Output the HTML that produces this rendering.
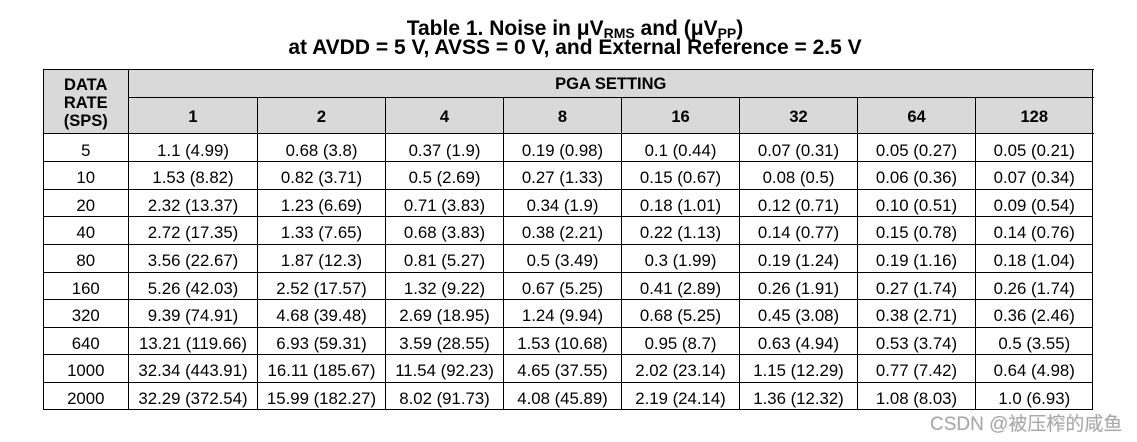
<!DOCTYPE html>
<html><head><meta charset="utf-8">
<style>
html,body{margin:0;padding:0;background:#fff;}
body{width:1137px;height:442px;position:relative;overflow:hidden;font-family:"Liberation Sans",Arial,sans-serif;color:#000;}
.ttl{position:absolute;left:275px;width:600px;text-align:center;font-weight:bold;font-size:21px;line-height:24px;white-space:nowrap;}
.sub{font-size:14px;position:relative;top:3px;}
.hdr{position:absolute;left:43px;top:69px;width:1050px;height:64.5px;background:#d9d9d9;}
.v{position:absolute;width:1px;background:#000;}
.h{position:absolute;height:1px;background:#000;}
.row{position:absolute;left:43px;height:27.6px;display:flex;font-size:16.8px;}
.row span{display:block;text-align:center;line-height:27.6px;padding-top:3px;white-space:nowrap;}
.c0{width:85.5px}.c1{width:129px}.c2{width:128px}.c3,.c4,.c5,.c6,.c7{width:118px}.c8{width:117.5px}
.hr2{top:97px;height:36.5px;font-weight:bold;font-size:16.5px;}
.hr2 span{line-height:36.5px;padding-top:1.5px;}
.wm{position:absolute;left:930px;top:414px;font-size:19px;line-height:22px;color:#a8a8a8;white-space:nowrap;font-family:"Liberation Sans","Noto Sans CJK SC",sans-serif;text-shadow:0 0 1px #ddd;}
</style></head><body>
<div class="ttl" style="top:17.4px">Table 1. Noise in μV<span class="sub">RMS</span> and (μV<span class="sub">PP</span>)</div>
<div class="ttl" style="top:35.7px">at AVDD = 5 V, AVSS = 0 V, and External Reference = 2.5 V</div>

<div class="hdr"></div>

<!-- header text -->
<div style="position:absolute;left:43px;top:75.5px;width:85.5px;text-align:center;font-weight:bold;font-size:16.5px;line-height:18.2px;">DATA<br>RATE<br>(SPS)</div>
<div style="position:absolute;left:128.5px;top:69px;width:964.5px;height:28px;text-align:center;font-weight:bold;font-size:16.5px;line-height:28px;padding-top:1px;">PGA SETTING</div>
<div class="row hr2"><span class="c0"></span><span class="c1">1</span><span class="c2">2</span><span class="c3">4</span><span class="c4">8</span><span class="c5">16</span><span class="c6">32</span><span class="c7">64</span><span class="c8">128</span></div>

<!-- data rows -->
<div class="row" style="top:133.5px"><span class="c0">5</span><span class="c1">1.1 (4.99)</span><span class="c2">0.68 (3.8)</span><span class="c3">0.37 (1.9)</span><span class="c4">0.19 (0.98)</span><span class="c5">0.1 (0.44)</span><span class="c6">0.07 (0.31)</span><span class="c7">0.05 (0.27)</span><span class="c8">0.05 (0.21)</span></div>
<div class="row" style="top:161.1px"><span class="c0">10</span><span class="c1">1.53 (8.82)</span><span class="c2">0.82 (3.71)</span><span class="c3">0.5 (2.69)</span><span class="c4">0.27 (1.33)</span><span class="c5">0.15 (0.67)</span><span class="c6">0.08 (0.5)</span><span class="c7">0.06 (0.36)</span><span class="c8">0.07 (0.34)</span></div>
<div class="row" style="top:188.7px"><span class="c0">20</span><span class="c1">2.32 (13.37)</span><span class="c2">1.23 (6.69)</span><span class="c3">0.71 (3.83)</span><span class="c4">0.34 (1.9)</span><span class="c5">0.18 (1.01)</span><span class="c6">0.12 (0.71)</span><span class="c7">0.10 (0.51)</span><span class="c8">0.09 (0.54)</span></div>
<div class="row" style="top:216.3px"><span class="c0">40</span><span class="c1">2.72 (17.35)</span><span class="c2">1.33 (7.65)</span><span class="c3">0.68 (3.83)</span><span class="c4">0.38 (2.21)</span><span class="c5">0.22 (1.13)</span><span class="c6">0.14 (0.77)</span><span class="c7">0.15 (0.78)</span><span class="c8">0.14 (0.76)</span></div>
<div class="row" style="top:243.9px"><span class="c0">80</span><span class="c1">3.56 (22.67)</span><span class="c2">1.87 (12.3)</span><span class="c3">0.81 (5.27)</span><span class="c4">0.5 (3.49)</span><span class="c5">0.3 (1.99)</span><span class="c6">0.19 (1.24)</span><span class="c7">0.19 (1.16)</span><span class="c8">0.18 (1.04)</span></div>
<div class="row" style="top:271.5px"><span class="c0">160</span><span class="c1">5.26 (42.03)</span><span class="c2">2.52 (17.57)</span><span class="c3">1.32 (9.22)</span><span class="c4">0.67 (5.25)</span><span class="c5">0.41 (2.89)</span><span class="c6">0.26 (1.91)</span><span class="c7">0.27 (1.74)</span><span class="c8">0.26 (1.74)</span></div>
<div class="row" style="top:299.1px"><span class="c0">320</span><span class="c1">9.39 (74.91)</span><span class="c2">4.68 (39.48)</span><span class="c3">2.69 (18.95)</span><span class="c4">1.24 (9.94)</span><span class="c5">0.68 (5.25)</span><span class="c6">0.45 (3.08)</span><span class="c7">0.38 (2.71)</span><span class="c8">0.36 (2.46)</span></div>
<div class="row" style="top:326.7px"><span class="c0">640</span><span class="c1">13.21 (119.66)</span><span class="c2">6.93 (59.31)</span><span class="c3">3.59 (28.55)</span><span class="c4">1.53 (10.68)</span><span class="c5">0.95 (8.7)</span><span class="c6">0.63 (4.94)</span><span class="c7">0.53 (3.74)</span><span class="c8">0.5 (3.55)</span></div>
<div class="row" style="top:354.3px"><span class="c0">1000</span><span class="c1">32.34 (443.91)</span><span class="c2">16.11 (185.67)</span><span class="c3">11.54 (92.23)</span><span class="c4">4.65 (37.55)</span><span class="c5">2.02 (23.14)</span><span class="c6">1.15 (12.29)</span><span class="c7">0.77 (7.42)</span><span class="c8">0.64 (4.98)</span></div>
<div class="row" style="top:381.9px"><span class="c0">2000</span><span class="c1">32.29 (372.54)</span><span class="c2">15.99 (182.27)</span><span class="c3">8.02 (91.73)</span><span class="c4">4.08 (45.89)</span><span class="c5">2.19 (24.14)</span><span class="c6">1.36 (12.32)</span><span class="c7">1.08 (8.03)</span><span class="c8">1.0 (6.93)</span></div>

<!-- horizontal lines -->
<div class="h" style="left:43px;top:69px;width:1051px"></div>
<div class="h" style="left:128px;top:97px;width:966px"></div>
<div class="h" style="left:43px;top:133px;width:1051px"></div>
<div class="h" style="left:43px;top:161px;width:1050px"></div>
<div class="h" style="left:43px;top:189px;width:1050px"></div>
<div class="h" style="left:43px;top:216px;width:1050px"></div>
<div class="h" style="left:43px;top:244px;width:1050px"></div>
<div class="h" style="left:43px;top:272px;width:1050px"></div>
<div class="h" style="left:43px;top:299px;width:1050px"></div>
<div class="h" style="left:43px;top:327px;width:1050px"></div>
<div class="h" style="left:43px;top:354px;width:1050px"></div>
<div class="h" style="left:43px;top:382px;width:1050px"></div>
<div class="h" style="left:43px;top:409px;width:1050px"></div>

<!-- vertical lines -->
<div class="v" style="left:43px;top:69px;height:341px"></div>
<div class="v" style="left:128px;top:69px;height:341px"></div>
<div class="v" style="left:257px;top:97px;height:313px"></div>
<div class="v" style="left:385px;top:97px;height:313px"></div>
<div class="v" style="left:503px;top:97px;height:313px"></div>
<div class="v" style="left:621px;top:97px;height:313px"></div>
<div class="v" style="left:739px;top:97px;height:313px"></div>
<div class="v" style="left:857px;top:97px;height:313px"></div>
<div class="v" style="left:975px;top:97px;height:313px"></div>
<div class="v" style="left:1092px;top:69px;height:341px"></div>

<div class="wm">CSDN @被压榨的咸鱼</div>
</body></html>
